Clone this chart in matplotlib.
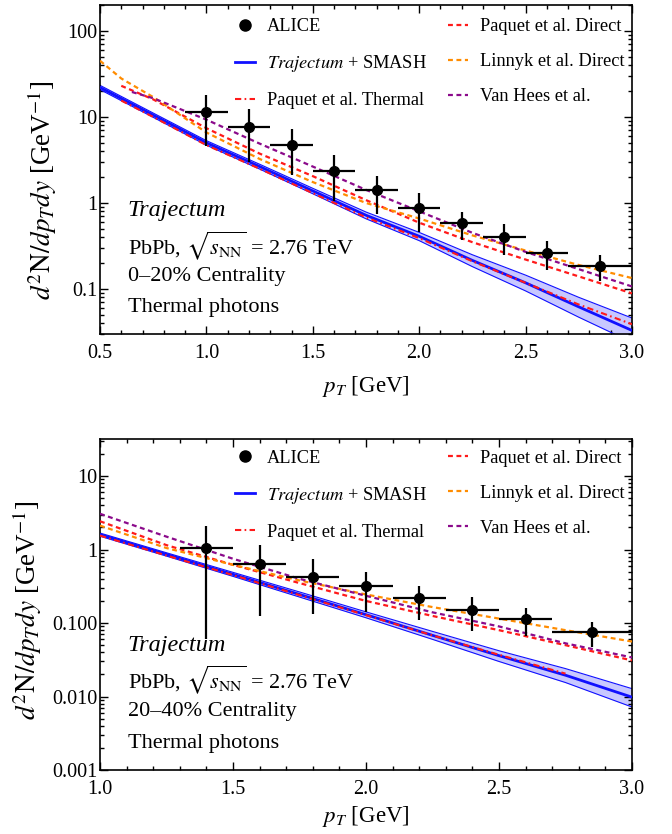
import matplotlib
matplotlib.use("Agg")
import matplotlib.pyplot as plt
from matplotlib.lines import Line2D
from matplotlib.ticker import LogLocator, MultipleLocator, FixedLocator, FixedFormatter, NullFormatter

plt.rcParams['font.family'] = ['Liberation Serif', 'DejaVu Serif']
plt.rcParams['mathtext.fontset'] = 'stix'

# ---------------- Top panel: 0-20% ----------------
alice_pt_a = [1.0, 1.2, 1.4, 1.6, 1.8, 2.0, 2.2, 2.4, 2.6, 2.85]
alice_xerr_a = [0.1, 0.1, 0.1, 0.1, 0.1, 0.1, 0.1, 0.1, 0.1, 0.15]
alice_y_a = [11.3, 7.6, 4.7, 2.35, 1.42, 0.875, 0.58, 0.405, 0.264, 0.187]
alice_lo_a = [4.6, 2.97, 2.13, 1.06, 0.745, 0.464, 0.374, 0.248, 0.166, 0.125]
alice_hi_a = [18.0, 12.4, 7.24, 3.6, 2.08, 1.31, 0.78, 0.565, 0.364, 0.248]

traj_pt_a = [0.5, 0.75, 1.0, 1.25, 1.5, 1.75, 2.0, 2.25, 2.5, 2.75, 3.0]
traj_a = [22.0, 10.5, 5.0, 2.65, 1.38, 0.72, 0.41, 0.215, 0.118, 0.062, 0.033]
traj_hi_a = [23.3, 11.1, 5.3, 2.82, 1.48, 0.785, 0.455, 0.25, 0.145, 0.08, 0.046]
traj_lo_a = [20.8, 9.9, 4.7, 2.48, 1.28, 0.655, 0.365, 0.182, 0.095, 0.047, 0.024]

therm_pt_a = [0.6, 0.75, 1.0, 1.25, 1.5, 1.75, 2.0, 2.25, 2.5, 2.75, 3.0]
therm_a = [15.5, 10.0, 4.7, 2.5, 1.3, 0.68, 0.39, 0.21, 0.118, 0.066, 0.039]

pdir_pt_a = [0.6, 0.75, 1.0, 1.25, 1.5, 1.75, 2.0, 2.25, 2.5, 2.75, 3.0]
pdir_a = [23.0, 16.0, 7.4, 3.75, 2.05, 1.08, 0.59, 0.35, 0.22, 0.14, 0.089]

linn_pt_a = [0.5, 0.6, 0.75, 1.0, 1.25, 1.5, 1.75, 2.0, 2.25, 2.5, 2.75, 3.0]
linn_a = [45.0, 28.0, 17.0, 6.6, 3.25, 1.75, 1.0, 0.66, 0.42, 0.28, 0.19, 0.134]

vh_pt_a = [0.65, 0.75, 1.0, 1.25, 1.5, 1.75, 2.0, 2.25, 2.5, 2.75, 3.0]
vh_a = [19.5, 16.5, 9.3, 4.9, 2.65, 1.42, 0.8, 0.45, 0.27, 0.17, 0.107]

# ---------------- Bottom panel: 20-40% ----------------
alice_pt_b = [1.4, 1.6, 1.8, 2.0, 2.2, 2.4, 2.6, 2.85]
alice_xerr_b = [0.1, 0.1, 0.1, 0.1, 0.1, 0.1, 0.1, 0.15]
alice_y_b = [1.05, 0.638, 0.428, 0.316, 0.217, 0.150, 0.1145, 0.076]
alice_lo_b = [0.06, 0.126, 0.133, 0.143, 0.111, 0.0785, 0.067, 0.0475]
alice_hi_b = [2.08, 1.17, 0.746, 0.5, 0.323, 0.224, 0.16, 0.105]

traj_pt_b = [1.0, 1.25, 1.5, 1.75, 2.0, 2.25, 2.5, 2.75, 3.0]
traj_b = [1.6, 0.86, 0.46, 0.245, 0.13, 0.068, 0.036, 0.0195, 0.0098]
traj_hi_b = [1.68, 0.905, 0.49, 0.265, 0.142, 0.077, 0.042, 0.024, 0.0128]
traj_lo_b = [1.52, 0.815, 0.432, 0.226, 0.118, 0.06, 0.030, 0.0155, 0.0072]

therm_pt_b = [1.0, 1.25, 1.5, 1.75, 2.0, 2.25, 2.5, 2.75]
therm_b = [1.55, 0.83, 0.45, 0.24, 0.128, 0.068, 0.037, 0.0205]

pdir_pt_b = [1.0, 1.25, 1.5, 1.75, 2.0, 2.25, 2.5, 2.75, 3.0]
pdir_b = [2.43, 1.15, 0.62, 0.35, 0.20, 0.125, 0.08, 0.05, 0.031]

linn_pt_b = [1.0, 1.25, 1.5, 1.75, 2.0, 2.25, 2.5, 2.75, 3.0]
linn_b = [2.12, 1.05, 0.62, 0.38, 0.245, 0.165, 0.115, 0.08, 0.056]

vh_pt_b = [1.0, 1.25, 1.5, 1.75, 2.0, 2.25, 2.5, 2.75, 3.0]
vh_b = [3.07, 1.5, 0.75, 0.40, 0.235, 0.14, 0.09, 0.053, 0.034]

legend_labels = ["ALICE", r"$\mathit{Trajectum}$ + SMASH", "Paquet et al. Thermal",
                 "Paquet et al. Direct", "Linnyk et al. Direct", "Van Hees et al."]

C_BLUE = "#1010ff"
C_BAND = "#c8c8ff"
C_RED = "#ff1a1a"
C_ORANGE = "#ff8c00"
C_PURPLE = "#8b0a8b"
DASH = (2.2, 1.6)
DASHDOT = (3.0, 1.6, 0.8, 1.6)

fig = plt.figure(figsize=(6.72, 8.34), dpi=100)
ax1 = fig.add_axes([100/672, 1-334/834, 532/672, 329/834])
ax2 = fig.add_axes([100/672, 1-770/834, 532/672, 331/834])


def draw(ax, d):
    ax.set_yscale('log')
    ax.fill_between(d['tpt'], d['tlo'], d['thi'], color=C_BAND, lw=0, zorder=1)
    ax.plot(d['tpt'], d['thi'], color=C_BLUE, lw=0.8, zorder=2)
    ax.plot(d['tpt'], d['tlo'], color=C_BLUE, lw=0.8, zorder=2)
    ax.plot(d['tpt'], d['t'], color=C_BLUE, lw=2.0, zorder=3)
    ax.plot(d['hpt'], d['h'], color=C_RED, lw=1.5, dashes=DASHDOT, zorder=4)
    ax.plot(d['ppt'], d['p'], color=C_RED, lw=1.6, dashes=DASH, zorder=4)
    ax.plot(d['lpt'], d['l'], color=C_ORANGE, lw=1.6, dashes=DASH, zorder=4)
    ax.plot(d['vpt'], d['v'], color=C_PURPLE, lw=1.6, dashes=DASH, zorder=4)
    y = d['ay']
    yerr = [[yy - lo for yy, lo in zip(y, d['alo'])], [hi - yy for yy, hi in zip(y, d['ahi'])]]
    ax.errorbar(d['apt'], y, xerr=d['axe'], yerr=yerr, fmt='o', color='black',
                ms=7, elinewidth=1.6, capsize=0, zorder=6, clip_on=True)

    handles = [
        Line2D([], [], marker='o', color='black', ls='none', ms=8),
        Line2D([], [], color=C_BLUE, lw=2.0),
        Line2D([], [], color=C_RED, lw=1.5, dashes=DASHDOT),
        Line2D([], [], color=C_RED, lw=1.6, dashes=DASH),
        Line2D([], [], color=C_ORANGE, lw=1.6, dashes=DASH),
        Line2D([], [], color=C_PURPLE, lw=1.6, dashes=DASH),
    ]
    ax.legend(handles, legend_labels, ncol=2, loc='upper left', bbox_to_anchor=d['legpos'],
              frameon=False, fontsize=13.2, handlelength=1.1, handletextpad=0.65,
              columnspacing=1.15, labelspacing=0.99, borderpad=0, borderaxespad=0)

    tx = 0.052
    ax.text(tx, d['txty'][0], "Trajectum", style='italic', fontsize=17.5,
            transform=ax.transAxes, va='center', ha='left')
    ax.text(tx, d['txty'][1], r"PbPb, $\sqrt{s_{\mathrm{NN}}}$ = 2.76 TeV", fontsize=16,
            transform=ax.transAxes, va='center', ha='left')
    ax.text(tx, d['txty'][2], d['cent'], fontsize=16,
            transform=ax.transAxes, va='center', ha='left')
    ax.text(tx, d['txty'][3], "Thermal photons", fontsize=16,
            transform=ax.transAxes, va='center', ha='left')

    ax.set_xlim(d['xlim'])
    ax.set_ylim(d['ylim'])
    ax.xaxis.set_major_locator(MultipleLocator(0.5))
    ax.xaxis.set_minor_locator(MultipleLocator(0.1))
    ax.xaxis.set_major_formatter(plt.FuncFormatter(lambda v, p: f"{v:.1f}"))
    ax.yaxis.set_major_locator(FixedLocator(d['yticks']))
    ax.yaxis.set_major_formatter(FixedFormatter(d['yticklabels']))
    ax.yaxis.set_minor_locator(LogLocator(base=10, subs=tuple(range(2, 10)), numticks=20))
    ax.yaxis.set_minor_formatter(NullFormatter())
    ax.tick_params(which='both', direction='in', top=True, right=True, labelsize=14.5, width=1.0)
    ax.tick_params(which='major', length=6)
    ax.tick_params(which='minor', length=3)
    ax.tick_params(axis='y', pad=2)
    ax.tick_params(axis='x', pad=7)
    for s in ax.spines.values():
        s.set_linewidth(1.2)
    ax.set_xlabel(r"$p_T$ [GeV]", fontsize=16.5, labelpad=d['xlabpad'])
    ax.set_ylabel(r"$d^2\mathrm{N}/dp_Tdy$ [GeV$^{-1}$]", fontsize=19.5)
    ax.yaxis.set_label_coords(d['ylabx'], d['ylaby'])


draw(ax1, dict(tpt=traj_pt_a, t=traj_a, thi=traj_hi_a, tlo=traj_lo_a,
               hpt=therm_pt_a, h=therm_a, ppt=pdir_pt_a, p=pdir_a,
               lpt=linn_pt_a, l=linn_a, vpt=vh_pt_a, v=vh_a,
               apt=alice_pt_a, axe=alice_xerr_a, ay=alice_y_a, alo=alice_lo_a, ahi=alice_hi_a,
               legpos=(0.254, 0.96), txty=(0.375, 0.27, 0.175, 0.08),
               cent="0\u201320% Centrality", xlim=(0.5, 3.0), ylim=(0.03, 200),
               yticks=[0.1, 1, 10, 100], yticklabels=["0.1", "1", "10", "100"],
               ylabx=-0.077, ylaby=0.438, xlabpad=8))

draw(ax2, dict(tpt=traj_pt_b, t=traj_b, thi=traj_hi_b, tlo=traj_lo_b,
               hpt=therm_pt_b, h=therm_b, ppt=pdir_pt_b, p=pdir_b,
               lpt=linn_pt_b, l=linn_b, vpt=vh_pt_b, v=vh_b,
               apt=alice_pt_b, axe=alice_xerr_b, ay=alice_y_b, alo=alice_lo_b, ahi=alice_hi_b,
               legpos=(0.254, 0.968), txty=(0.375, 0.273, 0.177, 0.081),
               cent="20\u201340% Centrality", xlim=(1.0, 3.0), ylim=(0.001, 32),
               yticks=[0.001, 0.01, 0.1, 1, 10], yticklabels=["0.001", "0.010", "0.100", "1", "10"],
               ylabx=-0.105, ylaby=0.483, xlabpad=4))

fig.savefig("out.png", dpi=100)
